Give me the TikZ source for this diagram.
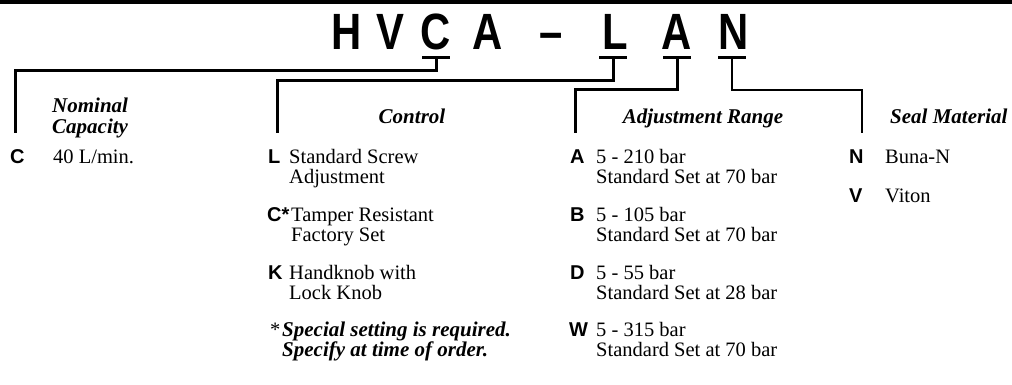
\documentclass[tikz,border=0pt]{standalone}
\usepackage{fontspec}
\setmainfont{Liberation Serif}
\newfontfamily\lsans{Liberation Sans}
\newcommand{\ttlglyph}[1]{\scalebox{0.82}[1]{#1}}
\begin{document}
\begin{tikzpicture}[x=1pt,y=-1pt,
  txt/.style={anchor=base west, inner sep=0pt, font=\fontsize{20.5}{20}\selectfont},
  hd/.style={anchor=base west, inner sep=0pt, font=\fontsize{21}{20}\selectfont\bfseries\itshape},
  hdc/.style={hd, anchor=base},
  lbl/.style={anchor=base west, inner sep=0pt, font=\fontsize{20}{20}\lsans\bfseries},
  ttl/.style={anchor=base, inner sep=0pt, font=\fontsize{51}{51}\lsans\bfseries},
  bracket/.style={line width=3pt, line join=miter},
  tickbar/.style={line width=3pt}]
\useasboundingbox (0,0) rectangle (1012,384);
% top rule
\fill (0,0) rectangle (1012,4);
% title letters
\node[ttl] (tH) at (347,49) {\ttlglyph{H}};
\node[ttl] (tV) at (390,49) {\ttlglyph{V}};
\node[ttl] (tC) at (436,49) {\ttlglyph{C}};
\node[ttl] (tA) at (488,49) {\ttlglyph{A}};
\node[ttl] (tD) at (551,49) {\ttlglyph{–}};
\node[ttl] (tL) at (615,49) {\ttlglyph{L}};
\node[ttl] (tA2) at (677,49) {\ttlglyph{A}};
\node[ttl] (tN) at (734,49) {\ttlglyph{N}};
% tick coordinates
\coordinate (kC) at (436,57);
\coordinate (kL) at (613,57);
\coordinate (kA) at (677,57);
\coordinate (kN) at (732,57);
\draw[tickbar] ([xshift=-14pt]kC) -- ([xshift=14pt]kC);
\draw[tickbar] ([xshift=-14pt]kL) -- ([xshift=14pt]kL);
\draw[tickbar] ([xshift=-14pt]kA) -- ([xshift=14pt]kA);
\draw[tickbar] ([xshift=-14pt]kN) -- ([xshift=14pt]kN);
% bracket ends
\coordinate (eC) at (15,133);
\coordinate (eL) at (277,133);
\coordinate (eA) at (575,133);
\coordinate (eN) at (862,133);
\draw[bracket] (kC) -- (436,70) -| (eC);
\draw[bracket] (kL) -- (613,80) -| (eL);
\draw[bracket] (kA) -- (677,89) -| (eA);
\draw[bracket, line width=2.5pt] (kN) -- (732,90) -| (eN);
% headings
\node[hd] (h1a) at (52,112) {Nominal};
\node[hd] (h1b) at (52,133) {Capacity};
\node[hdc] (h2) at (412,123) {Control};
\node[hdc] (h3) at (703,123) {Adjustment Range};
\node[hd] (h4) at (890,123) {Seal Material};
% column 1
\node[lbl] (c1) at (10,163) {C};
\node[txt] (c1t) at (53,163) {40 L/min.};
% column 2
\node[lbl] (l1) at (268,163) {L};
\node[txt] (l1a) at (289,163) {Standard Screw};
\node[txt] (l1b) at (289,183) {Adjustment};
\node[lbl] (l2) at (267,221) {C*};
\node[txt] (l2a) at (291,221) {Tamper Resistant};
\node[txt] (l2b) at (291,241) {Factory Set};
\node[lbl] (l3) at (268,279) {K};
\node[txt] (l3a) at (289,279) {Handknob with};
\node[txt] (l3b) at (289,299) {Lock Knob};
\node[txt] (fs) at (270,336) {*};
\node[hd] (fa) at (282,336) {Special setting is required.};
\node[hd] (fb) at (282,356) {Specify at time of order.};
% column 3
\node[lbl] (a1) at (570,163) {A};
\node[txt] (a1a) at (596,163) {5 - 210 bar};
\node[txt] (a1b) at (596,183) {Standard Set at 70 bar};
\node[lbl] (a2) at (570,221) {B};
\node[txt] (a2a) at (596,221) {5 - 105 bar};
\node[txt] (a2b) at (596,241) {Standard Set at 70 bar};
\node[lbl] (a3) at (570,279) {D};
\node[txt] (a3a) at (596,279) {5 - 55 bar};
\node[txt] (a3b) at (596,299) {Standard Set at 28 bar};
\node[lbl] (a4) at (569,336) {W};
\node[txt] (a4a) at (596,336) {5 - 315 bar};
\node[txt] (a4b) at (596,356) {Standard Set at 70 bar};
% column 4
\node[lbl] (n1) at (849,163) {N};
\node[txt] (n1a) at (885,163) {Buna-N};
\node[lbl] (n2) at (849,202) {V};
\node[txt] (n2a) at (885,202) {Viton};
\end{tikzpicture}
\end{document}
